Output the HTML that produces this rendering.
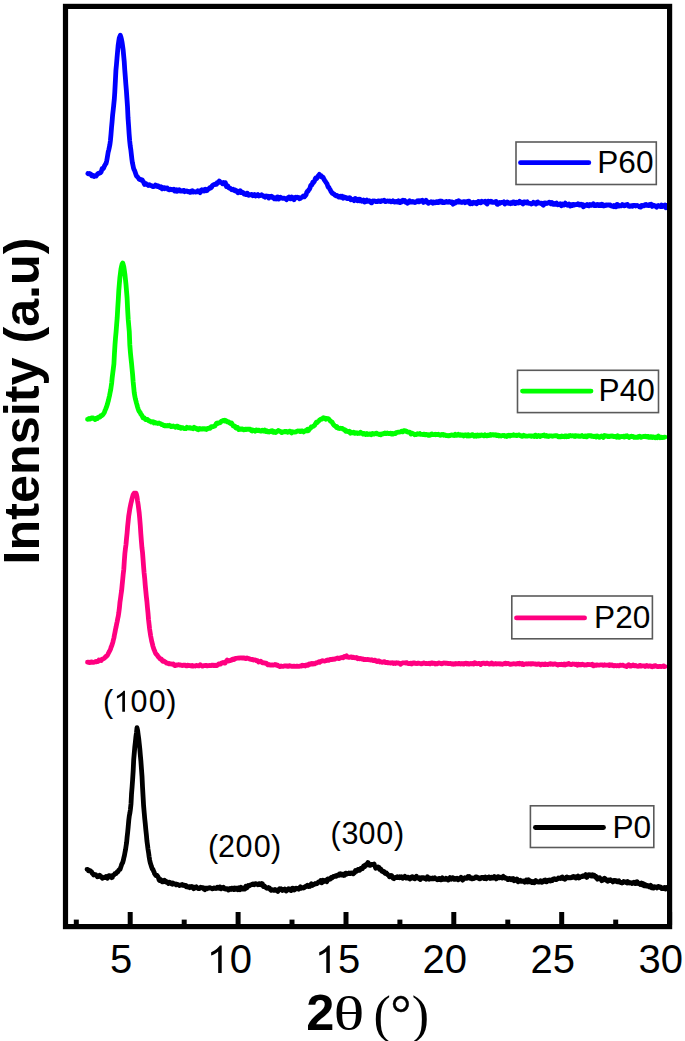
<!DOCTYPE html>
<html><head><meta charset="utf-8"><style>
html,body{margin:0;padding:0;background:#fff;}
body{width:685px;height:1041px;overflow:hidden;position:relative;}
svg{position:absolute;left:0;top:0;}
.tick{font-family:"Liberation Sans",sans-serif;font-size:40px;fill:#000;}
.leg{font-family:"Liberation Sans",sans-serif;font-size:31.6px;fill:#000;}
.ann{font-family:"Liberation Sans",sans-serif;font-size:30.5px;fill:#000;}
.ylab{font-family:"Liberation Sans",sans-serif;font-size:50.3px;font-weight:bold;fill:#000;}
.xb{font-family:"Liberation Sans",sans-serif;font-size:50.5px;font-weight:bold;fill:#000;}
.xs{font-family:"Liberation Serif",serif;font-size:50px;fill:#000;}
</style></head><body>
<svg width="685" height="1041" viewBox="0 0 685 1041">
<g fill="none" stroke-linejoin="round" stroke-linecap="round" stroke-width="4.8">
<path d="M87.9,173.5 88.5,173.8 89.0,173.6 89.5,173.5 90.1,173.7 90.6,174.0 91.2,175.0 91.7,175.8 92.3,175.2 92.8,175.3 93.4,176.2 93.9,176.5 94.5,176.2 95.0,175.7 95.6,176.1 96.1,176.2 96.7,175.1 97.2,174.6 97.8,173.7 98.3,173.4 98.9,173.1 99.4,173.3 100.0,172.6 100.5,172.6 101.1,171.9 101.6,170.4 102.2,168.5 102.7,168.5 103.3,168.5 103.8,167.6 104.4,166.0 104.9,165.3 105.5,164.1 106.0,163.5 106.6,161.3 107.1,158.7 107.7,155.2 108.2,152.0 108.8,149.8 109.3,147.4 109.9,144.5 110.4,140.7 111.0,134.3 111.5,127.9 112.1,121.6 112.6,115.3 113.2,109.9 113.7,105.3 114.3,99.3 114.8,91.8 115.4,80.5 115.9,70.5 116.5,64.1 117.0,58.1 117.6,51.4 118.1,45.9 118.7,41.5 119.2,38.3 119.8,36.6 120.3,35.3 120.9,37.0 121.4,39.1 122.0,41.9 122.5,45.4 123.1,49.6 123.6,54.9 124.2,61.2 124.7,69.1 125.3,76.7 125.8,83.6 126.4,90.7 126.9,98.0 127.5,106.7 128.0,117.5 128.6,125.8 129.1,133.7 129.7,141.0 130.2,145.7 130.8,149.6 131.3,154.1 131.9,159.2 132.4,162.8 133.0,165.6 133.5,167.9 134.1,169.7 134.6,170.5 135.2,172.3 135.7,173.8 136.3,175.6 136.8,176.3 137.4,176.7 137.9,177.5 138.5,178.0 139.0,179.1 139.6,179.4 140.1,179.7 140.7,179.5 141.2,180.2 141.8,179.7 142.3,179.9 142.9,181.2 143.4,181.8 144.0,183.2 144.5,184.4 145.1,183.3 145.6,183.3 146.2,184.1 146.7,184.6 147.3,184.5 147.8,184.7 148.4,185.5 148.9,185.4 149.5,184.8 150.0,185.3 150.6,185.5 151.1,185.3 151.7,185.8 152.2,185.8 152.8,186.7 153.3,186.6 153.9,186.4 154.4,186.1 155.0,185.9 155.5,185.1 156.1,185.6 156.6,186.2 157.2,185.7 157.7,186.5 158.3,186.1 158.8,186.9 159.4,186.8 159.9,187.5 160.5,187.2 161.0,186.7 161.6,188.2 162.1,188.7 162.7,187.9 163.2,187.6 163.8,187.6 164.3,187.7 164.9,188.6 165.4,188.2 166.0,188.1 166.5,188.0 167.1,187.9 167.6,188.2 168.2,189.5 168.7,189.6 169.3,189.9 169.8,189.6 170.4,189.2 170.9,189.3 171.5,189.5 172.0,189.8 172.6,189.8 173.1,189.6 173.7,189.2 174.2,189.9 174.8,191.1 175.3,190.2 175.9,189.8 176.4,190.8 177.0,191.2 177.5,190.0 178.1,190.2 178.6,190.0 179.2,189.8 179.7,191.0 180.3,191.1 180.8,190.9 181.4,190.7 181.9,191.1 182.5,190.8 183.0,190.7 183.6,190.3 184.1,190.5 184.7,191.7 185.2,191.3 185.8,191.4 186.3,191.3 186.9,191.0 187.4,191.2 188.0,191.7 188.5,191.4 189.1,191.3 189.6,191.7 190.2,192.4 190.7,192.2 191.3,191.7 191.8,190.9 192.4,190.7 192.9,191.9 193.5,192.1 194.0,191.6 194.6,191.8 195.1,192.0 195.7,192.1 196.2,191.9 196.8,191.4 197.3,191.7 197.9,190.8 198.4,191.5 199.0,191.7 199.5,192.0 200.1,192.6 200.6,192.0 201.2,190.2 201.7,189.8 202.3,190.9 202.8,190.4 203.4,190.8 203.9,191.0 204.5,189.6 205.0,189.3 205.6,190.5 206.1,190.8 206.7,190.6 207.2,190.4 207.8,189.5 208.3,188.9 208.9,189.0 209.4,188.2 210.0,187.5 210.5,188.1 211.1,187.7 211.6,187.1 212.2,185.9 212.7,185.3 213.3,184.8 213.8,184.7 214.4,184.7 214.9,184.1 215.5,184.2 216.0,184.3 216.6,184.3 217.1,182.6 217.7,182.8 218.2,182.4 218.8,181.8 219.3,181.0 219.9,181.6 220.4,182.4 221.0,182.4 221.5,182.5 222.1,182.9 222.6,183.8 223.2,183.3 223.7,182.5 224.3,183.1 224.8,182.8 225.4,182.7 225.9,184.9 226.5,186.6 227.0,186.3 227.6,185.7 228.1,186.4 228.7,187.8 229.2,188.0 229.8,188.0 230.3,188.3 230.9,188.8 231.4,189.6 232.0,189.8 232.5,189.6 233.1,189.3 233.6,190.0 234.2,190.1 234.7,190.7 235.3,190.1 235.8,190.5 236.4,190.7 236.9,190.8 237.5,192.5 238.0,192.7 238.6,191.9 239.1,192.3 239.7,191.9 240.2,190.8 240.8,192.0 241.3,192.6 241.9,192.5 242.4,192.2 243.0,192.6 243.5,193.2 244.1,194.0 244.6,193.9 245.2,193.9 245.7,194.5 246.3,193.7 246.8,193.2 247.4,193.2 247.9,194.9 248.5,195.3 249.0,195.2 249.6,195.0 250.1,194.7 250.7,194.6 251.2,194.5 251.8,194.5 252.3,195.0 252.9,195.8 253.4,195.5 254.0,194.9 254.5,194.5 255.1,194.9 255.6,196.0 256.2,195.8 256.7,195.3 257.3,194.9 257.8,194.6 258.4,195.3 258.9,195.9 259.5,195.4 260.0,195.3 260.6,195.5 261.1,195.4 261.7,194.8 262.2,195.2 262.8,195.6 263.3,196.2 263.9,195.9 264.4,196.7 265.0,197.2 265.5,196.3 266.1,196.0 266.6,196.5 267.2,196.4 267.7,196.2 268.3,197.2 268.8,198.1 269.4,197.1 269.9,196.6 270.5,196.4 271.0,196.9 271.6,196.3 272.1,196.6 272.7,197.7 273.2,197.3 273.8,198.2 274.3,198.7 274.9,198.1 275.4,198.4 276.0,198.9 276.5,197.9 277.1,197.1 277.6,196.9 278.2,197.9 278.7,199.0 279.3,198.6 279.8,197.4 280.4,197.2 280.9,197.7 281.5,198.1 282.0,198.1 282.6,198.3 283.1,198.4 283.7,198.1 284.2,198.2 284.8,198.4 285.3,198.4 285.9,199.0 286.4,199.7 287.0,199.1 287.5,198.2 288.1,197.5 288.6,197.9 289.2,197.0 289.7,197.3 290.3,198.7 290.8,198.9 291.4,198.0 291.9,197.1 292.5,197.5 293.0,197.9 293.6,198.9 294.1,199.7 294.7,198.5 295.2,197.4 295.8,197.1 296.3,197.7 296.9,197.6 297.4,197.2 298.0,197.4 298.5,197.3 299.1,198.4 299.6,198.8 300.2,198.4 300.7,197.6 301.3,197.6 301.8,197.3 302.4,196.9 302.9,196.6 303.5,195.8 304.0,195.8 304.6,196.7 305.1,196.0 305.7,195.4 306.2,194.5 306.8,192.2 307.3,191.4 307.9,191.3 308.4,190.6 309.0,189.6 309.5,189.2 310.1,187.7 310.6,185.8 311.2,185.0 311.7,185.1 312.3,183.9 312.8,182.1 313.4,182.6 313.9,182.0 314.5,181.1 315.0,179.4 315.6,178.1 316.1,177.7 316.7,178.6 317.2,177.4 317.8,177.0 318.3,175.7 318.9,175.1 319.4,174.4 320.0,175.2 320.5,176.1 321.1,175.8 321.6,177.0 322.2,177.2 322.7,176.9 323.3,177.7 323.8,178.9 324.4,180.0 324.9,180.7 325.5,181.5 326.0,182.5 326.6,183.1 327.1,184.0 327.7,185.9 328.2,187.2 328.8,187.2 329.3,188.5 329.9,189.2 330.4,190.1 331.0,191.5 331.5,192.1 332.1,193.2 332.6,193.0 333.2,193.7 333.7,193.9 334.3,194.2 334.8,195.1 335.4,195.4 335.9,195.9 336.5,195.7 337.0,195.4 337.6,196.0 338.1,196.7 338.7,197.0 339.2,196.4 339.8,196.4 340.3,196.2 340.9,197.1 341.4,196.5 342.0,196.2 342.5,197.4 343.1,198.1 343.6,196.9 344.2,196.8 344.7,197.2 345.3,197.4 345.8,198.1 346.4,197.8 346.9,197.9 347.5,198.6 348.0,198.3 348.6,198.6 349.1,198.0 349.7,197.6 350.2,198.0 350.8,199.7 351.3,199.4 351.9,199.3 352.4,199.4 353.0,199.5 353.5,200.0 354.1,200.6 354.6,199.1 355.2,198.4 355.7,198.7 356.3,199.1 356.8,200.5 357.4,200.7 357.9,199.6 358.5,199.3 359.0,200.3 359.6,200.8 360.1,199.3 360.7,200.3 361.2,200.5 361.8,201.1 362.3,200.5 362.9,200.4 363.4,200.0 364.0,200.6 364.5,202.1 365.1,202.0 365.6,201.1 366.2,200.4 366.7,200.0 367.3,200.8 367.8,201.4 368.4,201.4 368.9,201.2 369.5,200.8 370.0,201.2 370.6,201.7 371.1,202.7 371.7,202.9 372.2,201.7 372.8,201.0 373.3,201.2 373.9,201.0 374.4,201.0 375.0,201.2 375.5,201.1 376.1,201.7 376.6,201.7 377.2,201.7 377.7,201.4 378.3,200.9 378.8,200.8 379.4,201.2 379.9,201.3 380.5,201.6 381.0,201.4 381.6,200.8 382.1,201.1 382.7,200.7 383.2,200.9 383.8,200.9 384.3,200.3 384.9,201.3 385.4,201.7 386.0,201.5 386.5,201.3 387.1,201.1 387.6,200.9 388.2,201.2 388.7,201.3 389.3,201.4 389.8,201.0 390.4,201.6 390.9,201.8 391.5,201.5 392.0,201.5 392.6,201.6 393.1,200.9 393.7,201.7 394.2,202.0 394.8,202.0 395.3,201.8 395.9,201.3 396.4,201.5 397.0,202.1 397.5,202.1 398.1,201.6 398.6,200.9 399.2,202.0 399.7,202.7 400.3,202.6 400.8,201.7 401.4,201.0 401.9,201.9 402.5,201.3 403.0,200.2 403.6,201.1 404.1,200.6 404.7,200.5 405.2,201.3 405.8,202.3 406.3,201.8 406.9,202.2 407.4,203.2 408.0,203.0 408.5,201.9 409.1,201.3 409.6,200.8 410.2,201.2 410.7,201.9 411.3,202.1 411.8,202.1 412.4,202.2 412.9,201.5 413.5,201.7 414.0,202.3 414.6,202.5 415.1,202.6 415.7,202.2 416.2,201.7 416.8,201.7 417.3,200.9 417.9,200.7 418.4,201.8 419.0,201.9 419.5,201.6 420.1,200.8 420.6,201.1 421.2,201.2 421.7,200.7 422.3,200.2 422.8,201.3 423.4,202.4 423.9,202.1 424.5,201.5 425.0,201.9 425.6,201.7 426.1,200.3 426.7,201.3 427.2,202.3 427.8,202.7 428.3,203.3 428.9,203.0 429.4,202.4 430.0,202.3 430.5,202.3 431.1,201.7 431.6,201.9 432.2,202.8 432.7,203.2 433.3,202.2 433.8,201.9 434.4,202.3 434.9,202.8 435.5,202.5 436.0,202.6 436.6,201.6 437.1,201.6 437.7,201.9 438.2,202.6 438.8,202.4 439.3,201.1 439.9,201.2 440.4,201.8 441.0,201.3 441.5,201.1 442.1,202.4 442.6,202.6 443.2,202.3 443.7,202.0 444.3,202.5 444.8,202.3 445.4,202.4 445.9,201.5 446.5,201.4 447.0,201.8 447.6,201.8 448.1,202.3 448.7,202.1 449.2,201.5 449.8,201.8 450.3,202.0 450.9,202.4 451.4,201.8 452.0,201.9 452.5,203.2 453.1,204.1 453.6,203.7 454.2,202.6 454.7,202.5 455.3,203.0 455.8,202.1 456.4,201.5 456.9,202.1 457.5,202.2 458.0,201.4 458.6,200.7 459.1,201.1 459.7,202.1 460.2,201.8 460.8,201.9 461.3,202.4 461.9,202.5 462.4,202.2 463.0,202.2 463.5,201.7 464.1,201.6 464.6,201.7 465.2,202.7 465.7,202.3 466.3,201.7 466.8,201.8 467.4,202.1 467.9,202.3 468.5,201.2 469.0,201.2 469.6,202.3 470.1,203.9 470.7,203.3 471.2,202.5 471.8,203.1 472.3,203.6 472.9,202.5 473.4,202.2 474.0,203.0 474.5,203.0 475.1,202.7 475.6,202.5 476.2,203.7 476.7,203.8 477.3,203.1 477.8,202.4 478.4,201.4 478.9,202.3 479.5,202.4 480.0,202.7 480.6,202.8 481.1,201.9 481.7,201.3 482.2,202.1 482.8,201.9 483.3,201.9 483.9,201.9 484.4,201.6 485.0,201.2 485.5,202.7 486.1,203.0 486.6,203.5 487.2,203.9 487.7,202.5 488.3,201.2 488.8,201.3 489.4,201.4 489.9,201.9 490.5,202.0 491.0,201.4 491.6,202.0 492.1,201.7 492.7,202.4 493.2,202.4 493.8,202.3 494.3,202.3 494.9,202.1 495.4,201.7 496.0,201.4 496.5,202.6 497.1,204.1 497.6,204.4 498.2,203.9 498.7,203.1 499.3,202.6 499.8,203.3 500.4,202.8 500.9,202.5 501.5,202.4 502.0,202.5 502.6,202.4 503.1,202.3 503.7,201.9 504.2,202.7 504.8,204.0 505.3,203.0 505.9,202.6 506.4,203.1 507.0,203.0 507.5,202.1 508.1,202.5 508.6,203.3 509.2,203.1 509.7,203.2 510.3,203.6 510.8,202.7 511.4,202.6 511.9,202.8 512.5,203.2 513.0,201.8 513.6,201.9 514.1,202.5 514.7,203.2 515.2,203.6 515.8,203.5 516.3,202.3 516.9,202.9 517.4,202.7 518.0,202.5 518.5,202.9 519.1,202.0 519.6,201.4 520.2,202.0 520.7,201.8 521.3,202.3 521.8,203.1 522.4,203.5 522.9,203.9 523.5,202.9 524.0,201.9 524.6,202.0 525.1,202.0 525.7,202.2 526.2,202.9 526.8,202.3 527.3,201.9 527.9,203.1 528.4,203.2 529.0,203.3 529.5,203.4 530.1,203.5 530.6,203.5 531.2,204.0 531.7,203.8 532.3,203.6 532.8,203.2 533.4,202.4 533.9,202.8 534.5,203.1 535.0,203.1 535.6,202.8 536.1,204.0 536.7,203.5 537.2,202.3 537.8,202.0 538.3,202.8 538.9,203.1 539.4,203.0 540.0,203.2 540.5,203.2 541.1,203.5 541.6,203.1 542.2,203.5 542.7,204.6 543.3,205.1 543.8,203.4 544.4,202.9 544.9,203.2 545.5,203.7 546.0,203.0 546.6,203.1 547.1,203.4 547.7,202.9 548.2,202.8 548.8,202.8 549.3,202.1 549.9,202.4 550.4,203.3 551.0,203.8 551.5,203.4 552.1,202.6 552.6,203.4 553.2,204.4 553.7,204.4 554.3,203.8 554.8,203.5 555.4,204.1 555.9,203.5 556.5,203.0 557.0,203.6 557.6,204.8 558.1,204.7 558.7,204.7 559.2,204.2 559.8,204.5 560.3,203.9 560.9,204.4 561.4,205.8 562.0,205.1 562.5,204.0 563.1,204.1 563.6,204.7 564.2,205.0 564.7,203.9 565.3,203.1 565.8,203.8 566.4,204.3 566.9,204.7 567.5,205.3 568.0,205.0 568.6,204.7 569.1,204.1 569.7,205.2 570.2,206.1 570.8,205.4 571.3,204.8 571.9,205.0 572.4,205.4 573.0,204.3 573.5,204.4 574.1,205.0 574.6,205.0 575.2,204.5 575.7,204.6 576.3,204.5 576.8,204.6 577.4,204.4 577.9,203.9 578.5,204.6 579.0,205.0 579.6,204.2 580.1,204.5 580.7,204.9 581.2,204.2 581.8,204.4 582.3,204.4 582.9,205.7 583.4,206.8 584.0,206.4 584.5,205.2 585.1,205.2 585.6,205.1 586.2,205.2 586.7,205.5 587.3,204.6 587.8,205.2 588.4,205.3 588.9,205.8 589.5,205.2 590.0,204.6 590.6,205.1 591.1,205.4 591.7,205.2 592.2,205.1 592.8,204.3 593.3,203.8 593.9,205.2 594.4,205.6 595.0,205.2 595.5,205.3 596.1,205.6 596.6,204.8 597.2,204.5 597.7,205.0 598.3,205.5 598.8,204.7 599.4,205.4 599.9,204.7 600.5,204.6 601.0,205.6 601.6,205.1 602.1,204.3 602.7,204.9 603.2,205.9 603.8,206.0 604.3,205.2 604.9,205.5 605.4,205.6 606.0,205.0 606.5,205.3 607.1,205.2 607.6,204.8 608.2,204.9 608.7,205.2 609.3,205.2 609.8,204.9 610.4,205.1 610.9,205.9 611.5,205.8 612.0,206.1 612.6,206.3 613.1,206.4 613.7,206.7 614.2,205.5 614.8,205.6 615.3,205.7 615.9,206.8 616.4,206.4 617.0,204.4 617.5,204.6 618.1,205.8 618.6,206.2 619.2,206.0 619.7,205.6 620.3,205.8 620.8,205.9 621.4,205.8 621.9,205.6 622.5,204.5 623.0,205.2 623.6,205.2 624.1,205.8 624.7,205.4 625.2,205.0 625.8,205.4 626.3,204.9 626.9,204.5 627.4,204.4 628.0,205.3 628.5,206.1 629.1,206.3 629.6,205.9 630.2,206.2 630.7,205.8 631.3,205.7 631.8,206.2 632.4,206.3 632.9,205.6 633.5,205.4 634.0,205.5 634.6,205.5 635.1,205.4 635.7,206.0 636.2,205.7 636.8,205.7 637.3,205.4 637.9,205.8 638.4,205.9 639.0,206.0 639.5,206.9 640.1,206.7 640.6,207.1 641.2,206.6 641.7,205.5 642.3,205.5 642.8,206.0 643.4,205.9 643.9,205.8 644.5,205.3 645.0,204.6 645.6,204.9 646.1,204.5 646.7,205.4 647.2,205.3 647.8,205.2 648.3,205.6 648.9,205.7 649.4,204.7 650.0,204.3 650.5,204.5 651.1,204.2 651.6,205.2 652.2,206.4 652.7,205.7 653.3,205.8 653.8,205.3 654.4,205.7 654.9,205.8 655.5,205.9 656.0,206.6 656.6,207.1 657.1,206.4 657.7,205.8 658.2,205.5 658.8,206.0 659.3,206.1 659.9,206.4 660.4,206.4 661.0,206.6 661.5,205.0 662.1,205.6 662.6,206.4 663.2,205.8 663.7,205.4 664.3,205.4 664.8,205.1 665.4,206.3 665.9,207.7 666.5,207.0 667.0,205.4 667.6,205.2" stroke="#0000ff"/>
<path d="M87.5,419.3 88.0,419.3 88.6,418.7 89.1,418.5 89.7,419.0 90.2,419.0 90.8,418.4 91.3,418.0 91.9,417.8 92.4,418.0 93.0,417.9 93.5,418.7 94.1,418.7 94.6,419.1 95.2,419.6 95.7,419.1 96.3,418.2 96.8,418.5 97.4,418.5 97.9,417.6 98.5,417.2 99.0,417.1 99.6,416.8 100.1,417.0 100.7,415.8 101.2,415.6 101.8,415.6 102.3,415.2 102.9,414.6 103.4,413.9 104.0,413.0 104.5,412.1 105.1,410.2 105.6,409.2 106.2,407.8 106.7,406.4 107.3,404.6 107.8,402.6 108.4,400.5 108.9,398.2 109.5,395.7 110.0,393.1 110.6,390.3 111.1,387.0 111.7,382.8 112.2,377.6 112.8,372.8 113.3,368.9 113.9,364.0 114.4,354.4 115.0,344.7 115.5,338.1 116.1,331.8 116.6,325.1 117.2,317.8 117.7,308.9 118.3,299.5 118.8,290.5 119.4,283.3 119.9,277.5 120.5,272.8 121.0,268.9 121.6,266.0 122.1,264.0 122.7,263.1 123.2,264.6 123.8,266.9 124.3,270.2 124.9,274.3 125.4,279.1 126.0,284.6 126.5,290.7 127.1,298.0 127.6,308.8 128.2,319.2 128.7,325.1 129.3,331.8 129.8,344.7 130.4,352.4 130.9,357.6 131.5,363.0 132.0,368.4 132.6,374.5 133.1,381.3 133.7,387.2 134.2,392.5 134.8,396.0 135.3,398.6 135.9,400.8 136.4,402.9 137.0,404.9 137.5,406.9 138.1,408.8 138.6,410.2 139.2,411.4 139.7,412.0 140.3,412.8 140.8,414.0 141.4,414.6 141.9,415.5 142.5,416.6 143.0,417.7 143.6,417.4 144.1,417.8 144.7,418.4 145.2,419.1 145.8,419.6 146.3,419.4 146.9,419.3 147.4,419.4 148.0,420.0 148.5,420.8 149.1,421.0 149.6,420.8 150.2,421.2 150.7,421.7 151.3,422.0 151.8,421.9 152.4,421.9 152.9,421.6 153.5,422.2 154.0,423.0 154.6,422.2 155.1,422.7 155.7,423.1 156.2,423.0 156.8,423.0 157.3,423.3 157.9,423.5 158.4,423.4 159.0,423.0 159.5,423.4 160.1,423.5 160.6,423.7 161.2,424.2 161.7,424.6 162.3,424.8 162.8,424.6 163.4,425.2 163.9,425.6 164.5,425.8 165.0,425.9 165.6,425.5 166.1,425.6 166.7,425.8 167.2,425.5 167.8,425.8 168.3,425.8 168.9,425.7 169.4,425.3 170.0,425.6 170.5,426.2 171.1,426.7 171.6,426.7 172.2,426.3 172.7,426.1 173.3,426.0 173.8,426.4 174.4,426.4 174.9,426.9 175.5,427.3 176.0,426.6 176.6,426.1 177.1,426.2 177.7,426.2 178.2,426.7 178.8,427.7 179.3,427.6 179.9,427.2 180.4,428.0 181.0,428.3 181.5,427.8 182.1,427.6 182.6,427.7 183.2,428.0 183.7,428.3 184.3,428.6 184.8,428.6 185.4,428.6 185.9,428.6 186.5,428.1 187.0,427.3 187.6,427.6 188.1,427.9 188.7,427.8 189.2,428.1 189.8,427.7 190.3,427.6 190.9,428.3 191.4,428.3 192.0,428.2 192.5,428.5 193.1,428.7 193.6,428.1 194.2,427.3 194.7,427.8 195.3,428.1 195.8,428.2 196.4,428.8 196.9,429.2 197.5,428.7 198.0,428.7 198.6,429.6 199.1,429.0 199.7,428.6 200.2,429.1 200.8,429.2 201.3,429.0 201.9,429.2 202.4,428.8 203.0,428.6 203.5,429.0 204.1,429.1 204.6,428.7 205.2,428.7 205.7,429.0 206.3,429.5 206.8,428.7 207.4,428.8 207.9,428.4 208.5,428.2 209.0,428.3 209.6,428.4 210.1,428.2 210.7,427.5 211.2,426.8 211.8,426.6 212.3,426.8 212.9,426.7 213.4,426.6 214.0,426.2 214.5,426.1 215.1,425.8 215.6,424.8 216.2,423.7 216.7,423.2 217.3,423.1 217.8,423.5 218.4,422.9 218.9,422.9 219.5,422.8 220.0,422.8 220.6,422.2 221.1,421.4 221.7,421.0 222.2,420.9 222.8,420.7 223.3,420.4 223.9,420.6 224.4,420.9 225.0,420.2 225.5,420.5 226.1,420.7 226.6,421.2 227.2,421.8 227.7,421.9 228.3,422.0 228.8,421.9 229.4,422.8 229.9,423.0 230.5,423.6 231.0,423.6 231.6,423.1 232.1,423.9 232.7,425.1 233.2,425.9 233.8,426.0 234.3,426.0 234.9,426.1 235.4,427.4 236.0,428.0 236.5,427.7 237.1,427.5 237.6,427.5 238.2,428.7 238.7,429.6 239.3,429.3 239.8,429.3 240.4,429.0 240.9,428.8 241.5,429.2 242.0,428.8 242.6,429.0 243.1,429.5 243.7,429.8 244.2,429.8 244.8,429.6 245.3,429.2 245.9,429.1 246.4,429.5 247.0,429.3 247.5,429.1 248.1,429.2 248.6,429.4 249.2,429.1 249.7,429.1 250.3,429.3 250.8,430.1 251.4,430.6 251.9,430.9 252.5,429.9 253.0,430.0 253.6,430.6 254.1,430.4 254.7,430.5 255.2,431.1 255.8,430.5 256.3,429.9 256.9,430.0 257.4,430.7 258.0,430.7 258.5,430.1 259.1,430.3 259.6,430.9 260.2,431.0 260.7,430.8 261.3,431.1 261.8,431.0 262.4,430.3 262.9,430.7 263.5,431.0 264.0,430.6 264.6,430.1 265.1,430.8 265.7,431.5 266.2,431.5 266.8,430.8 267.3,431.7 267.9,431.2 268.4,431.6 269.0,432.0 269.5,431.8 270.1,431.3 270.6,431.0 271.2,431.3 271.7,430.8 272.3,430.7 272.8,432.2 273.4,432.3 273.9,432.1 274.5,431.5 275.0,432.1 275.6,432.5 276.1,432.3 276.7,431.6 277.2,431.1 277.8,431.1 278.3,430.5 278.9,430.7 279.4,431.3 280.0,431.3 280.5,431.5 281.1,431.9 281.6,432.6 282.2,432.4 282.7,432.0 283.3,432.1 283.8,431.6 284.4,431.6 284.9,431.9 285.5,431.4 286.0,431.3 286.6,431.3 287.1,431.9 287.7,432.3 288.2,431.7 288.8,431.7 289.3,431.3 289.9,431.1 290.4,431.4 291.0,432.5 291.5,432.9 292.1,432.2 292.6,431.7 293.2,431.9 293.7,431.8 294.3,432.1 294.8,432.0 295.4,432.0 295.9,431.9 296.5,431.5 297.0,431.3 297.6,430.9 298.1,431.1 298.7,431.0 299.2,431.3 299.8,431.2 300.3,431.6 300.9,431.6 301.4,430.9 302.0,430.8 302.5,431.0 303.1,431.6 303.6,432.0 304.2,431.5 304.7,431.1 305.3,431.1 305.8,430.4 306.4,430.8 306.9,429.9 307.5,429.3 308.0,430.8 308.6,430.4 309.1,429.1 309.7,428.8 310.2,428.4 310.8,427.9 311.3,426.9 311.9,426.7 312.4,426.7 313.0,426.4 313.5,426.1 314.1,425.6 314.6,425.5 315.2,424.3 315.7,423.5 316.3,422.3 316.8,422.1 317.4,422.4 317.9,421.5 318.5,421.3 319.0,420.7 319.6,419.9 320.1,419.7 320.7,419.3 321.2,419.1 321.8,419.2 322.3,418.9 322.9,418.1 323.4,417.7 324.0,417.9 324.5,417.9 325.1,418.5 325.6,419.2 326.2,418.7 326.7,418.4 327.3,418.5 327.8,418.6 328.4,418.8 328.9,419.3 329.5,420.0 330.0,420.6 330.6,421.4 331.1,421.5 331.7,421.8 332.2,422.2 332.8,423.6 333.3,424.2 333.9,425.0 334.4,425.5 335.0,425.9 335.5,426.0 336.1,426.8 336.6,427.5 337.2,426.9 337.7,427.7 338.3,428.3 338.8,428.1 339.4,428.4 339.9,428.6 340.5,428.2 341.0,428.4 341.6,428.3 342.1,428.4 342.7,428.7 343.2,429.2 343.8,429.6 344.3,429.7 344.9,429.7 345.4,431.0 346.0,431.3 346.5,431.2 347.1,431.0 347.6,431.3 348.2,431.7 348.7,431.7 349.3,431.3 349.8,432.4 350.4,433.1 350.9,432.0 351.5,432.4 352.0,432.6 352.6,432.6 353.1,432.9 353.7,432.3 354.2,432.8 354.8,433.3 355.3,432.9 355.9,432.7 356.4,432.9 357.0,433.1 357.5,433.5 358.1,433.1 358.6,433.3 359.2,433.0 359.7,433.4 360.3,433.1 360.8,432.4 361.4,433.0 361.9,433.1 362.5,433.5 363.0,434.0 363.6,433.3 364.1,433.3 364.7,434.2 365.2,434.2 365.8,434.5 366.3,434.0 366.9,433.5 367.4,433.9 368.0,434.5 368.5,434.4 369.1,434.0 369.6,433.9 370.2,433.8 370.7,433.9 371.3,434.6 371.8,434.0 372.4,433.4 372.9,433.7 373.5,434.2 374.0,434.2 374.6,433.8 375.1,433.6 375.7,433.6 376.2,433.1 376.8,433.3 377.3,433.9 377.9,433.8 378.4,434.1 379.0,434.5 379.5,434.3 380.1,434.2 380.6,434.8 381.2,434.3 381.7,433.9 382.3,434.1 382.8,433.9 383.4,433.5 383.9,433.7 384.5,433.5 385.0,433.0 385.6,433.4 386.1,433.6 386.7,433.3 387.2,433.0 387.8,433.4 388.3,433.6 388.9,433.6 389.4,433.3 390.0,433.6 390.5,433.2 391.1,433.5 391.6,434.0 392.2,433.4 392.7,433.4 393.3,433.9 393.8,433.5 394.4,433.4 394.9,433.7 395.5,433.6 396.0,432.6 396.6,432.5 397.1,432.5 397.7,432.3 398.2,432.2 398.8,432.1 399.3,432.2 399.9,431.8 400.4,431.8 401.0,431.7 401.5,431.2 402.1,431.4 402.6,431.8 403.2,431.3 403.7,430.7 404.3,430.7 404.8,430.6 405.4,431.1 405.9,431.4 406.5,431.1 407.0,431.5 407.6,432.1 408.1,432.0 408.7,432.2 409.2,432.1 409.8,432.3 410.3,433.0 410.9,433.9 411.4,433.4 412.0,433.2 412.5,433.3 413.1,433.6 413.6,434.0 414.2,434.2 414.7,434.7 415.3,434.4 415.8,434.6 416.4,434.4 416.9,434.2 417.5,433.7 418.0,434.0 418.6,434.2 419.1,433.9 419.7,433.6 420.2,434.4 420.8,434.4 421.3,434.3 421.9,434.4 422.4,434.5 423.0,434.6 423.5,434.1 424.1,434.2 424.6,434.7 425.2,434.8 425.7,434.6 426.3,434.4 426.8,434.4 427.4,434.9 427.9,435.2 428.5,434.8 429.0,435.4 429.6,435.3 430.1,434.9 430.7,435.0 431.2,434.2 431.8,433.9 432.3,434.2 432.9,434.6 433.4,434.7 434.0,434.7 434.5,434.7 435.1,434.3 435.6,434.7 436.2,434.4 436.7,434.5 437.3,434.6 437.8,434.4 438.4,434.2 438.9,434.5 439.5,435.0 440.0,435.3 440.6,435.2 441.1,434.7 441.7,434.5 442.2,434.7 442.8,434.9 443.3,434.5 443.9,435.3 444.4,435.0 445.0,434.8 445.5,435.3 446.1,435.6 446.6,435.5 447.2,435.6 447.7,435.5 448.3,435.8 448.8,435.8 449.4,435.5 449.9,435.7 450.5,435.4 451.0,435.1 451.6,434.8 452.1,435.1 452.7,435.3 453.2,434.9 453.8,435.3 454.3,435.5 454.9,435.1 455.4,434.4 456.0,435.0 456.5,435.4 457.1,435.0 457.6,434.9 458.2,434.4 458.7,435.1 459.3,435.2 459.8,435.3 460.4,434.8 460.9,435.3 461.5,435.4 462.0,435.4 462.6,434.9 463.1,435.2 463.7,435.9 464.2,435.2 464.8,434.9 465.3,435.0 465.9,435.0 466.4,435.8 467.0,436.0 467.5,435.0 468.1,434.7 468.6,435.7 469.2,436.0 469.7,435.9 470.3,435.8 470.8,435.1 471.4,435.0 471.9,434.6 472.5,434.7 473.0,435.4 473.6,435.5 474.1,436.1 474.7,435.6 475.2,435.2 475.8,435.8 476.3,436.2 476.9,435.6 477.4,435.0 478.0,435.5 478.5,435.9 479.1,435.3 479.6,435.1 480.2,435.7 480.7,435.4 481.3,434.9 481.8,435.0 482.4,435.1 482.9,435.4 483.5,435.6 484.0,435.9 484.6,435.6 485.1,434.9 485.7,435.5 486.2,435.8 486.8,435.8 487.3,435.8 487.9,435.2 488.4,435.1 489.0,435.5 489.5,434.9 490.1,434.6 490.6,435.4 491.2,435.2 491.7,435.0 492.3,434.7 492.8,434.6 493.4,434.8 493.9,435.2 494.5,435.2 495.0,434.7 495.6,435.3 496.1,435.0 496.7,435.0 497.2,435.6 497.8,435.3 498.3,435.1 498.9,435.9 499.4,435.4 500.0,435.5 500.5,435.8 501.1,436.0 501.6,435.6 502.2,435.7 502.7,435.5 503.3,435.7 503.8,435.3 504.4,435.5 504.9,436.2 505.5,435.9 506.0,435.9 506.6,436.4 507.1,435.8 507.7,435.3 508.2,435.5 508.8,435.3 509.3,435.9 509.9,436.0 510.4,435.4 511.0,435.2 511.5,435.5 512.1,435.4 512.6,435.2 513.2,435.4 513.7,434.8 514.3,435.1 514.8,435.3 515.4,435.4 515.9,435.5 516.5,435.2 517.0,435.6 517.6,435.5 518.1,435.1 518.7,434.8 519.2,435.0 519.8,435.5 520.3,435.3 520.9,435.6 521.4,436.2 522.0,436.3 522.5,436.3 523.1,435.6 523.6,435.3 524.2,435.9 524.7,436.0 525.3,436.1 525.8,435.9 526.4,436.2 526.9,436.2 527.5,436.1 528.0,436.0 528.6,435.9 529.1,435.8 529.7,435.9 530.2,436.0 530.8,435.8 531.3,436.3 531.9,436.0 532.4,436.1 533.0,435.8 533.5,435.9 534.1,436.4 534.6,435.7 535.2,435.1 535.7,435.3 536.3,435.8 536.8,436.6 537.4,436.2 537.9,436.0 538.5,435.5 539.0,435.9 539.6,436.3 540.1,436.5 540.7,435.8 541.2,436.0 541.8,435.9 542.3,435.5 542.9,435.6 543.4,435.4 544.0,435.0 544.5,435.8 545.1,436.1 545.6,435.6 546.2,435.5 546.7,436.3 547.3,436.3 547.8,436.4 548.4,436.5 548.9,435.9 549.5,436.1 550.0,435.9 550.6,435.8 551.1,435.8 551.7,436.0 552.2,436.3 552.8,436.1 553.3,435.8 553.9,435.8 554.4,435.9 555.0,435.6 555.5,435.6 556.1,435.8 556.6,435.7 557.2,435.7 557.7,436.0 558.3,436.8 558.8,436.8 559.4,436.3 559.9,436.3 560.5,436.8 561.0,436.4 561.6,436.0 562.1,436.1 562.7,436.3 563.2,436.6 563.8,436.4 564.3,436.7 564.9,436.0 565.4,436.0 566.0,436.0 566.5,436.6 567.1,436.1 567.6,436.1 568.2,436.5 568.7,436.5 569.3,435.8 569.8,435.6 570.4,435.5 570.9,435.9 571.5,436.0 572.0,435.9 572.6,435.7 573.1,435.8 573.7,435.8 574.2,436.4 574.8,436.5 575.3,435.6 575.9,435.8 576.4,436.0 577.0,436.1 577.5,435.8 578.1,435.8 578.6,435.8 579.2,436.3 579.7,436.3 580.3,436.2 580.8,436.3 581.4,435.9 581.9,435.6 582.5,436.3 583.0,436.4 583.6,436.3 584.1,436.7 584.7,436.7 585.2,435.9 585.8,436.0 586.3,436.9 586.9,436.9 587.4,436.0 588.0,435.6 588.5,435.8 589.1,435.8 589.6,435.6 590.2,435.9 590.7,435.6 591.3,435.8 591.8,436.4 592.4,436.1 592.9,436.3 593.5,436.6 594.0,436.7 594.6,436.3 595.1,436.2 595.7,436.2 596.2,437.0 596.8,436.7 597.3,436.0 597.9,436.3 598.4,436.7 599.0,436.9 599.5,437.3 600.1,437.1 600.6,436.3 601.2,436.1 601.7,435.9 602.3,436.3 602.8,436.8 603.4,437.5 603.9,436.5 604.5,435.6 605.0,435.9 605.6,436.2 606.1,435.9 606.7,435.9 607.2,436.2 607.8,436.5 608.3,436.3 608.9,436.2 609.4,436.6 610.0,436.3 610.5,436.1 611.1,435.8 611.6,436.1 612.2,436.4 612.7,436.0 613.3,436.4 613.8,436.7 614.4,436.5 614.9,436.4 615.5,436.3 616.0,437.0 616.6,437.2 617.1,436.6 617.7,435.8 618.2,436.1 618.8,437.0 619.3,437.4 619.9,437.1 620.4,437.0 621.0,436.5 621.5,436.5 622.1,436.6 622.6,436.6 623.2,436.2 623.7,437.0 624.3,437.1 624.8,436.2 625.4,436.0 625.9,436.5 626.5,436.2 627.0,435.8 627.6,436.7 628.1,436.8 628.7,436.8 629.2,437.4 629.8,436.9 630.3,436.4 630.9,436.5 631.4,436.2 632.0,436.3 632.5,436.7 633.1,436.5 633.6,436.7 634.2,437.4 634.7,437.4 635.3,437.2 635.8,437.1 636.4,437.2 636.9,437.4 637.5,437.2 638.0,437.4 638.6,436.6 639.1,436.4 639.7,436.2 640.2,436.6 640.8,437.2 641.3,437.4 641.9,436.8 642.4,436.7 643.0,436.6 643.5,436.4 644.1,436.3 644.6,436.5 645.2,436.2 645.7,436.7 646.3,436.8 646.8,436.5 647.4,436.3 647.9,436.5 648.5,437.3 649.0,436.8 649.6,437.4 650.1,437.3 650.7,436.7 651.2,436.6 651.8,437.4 652.3,437.6 652.9,436.8 653.4,436.9 654.0,437.4 654.5,437.5 655.1,437.7 655.6,437.1 656.2,437.0 656.7,436.9 657.3,437.6 657.8,436.7 658.4,436.1 658.9,436.7 659.5,437.2 660.0,437.7 660.6,437.2 661.1,437.1 661.7,437.5 662.2,437.7 662.8,437.4 663.3,437.5 663.9,437.4 664.4,437.1 665.0,437.1" stroke="#00ff00"/>
<path d="M87.5,662.2 88.0,662.2 88.6,662.4 89.1,662.1 89.7,662.6 90.2,662.6 90.8,662.2 91.3,661.9 91.9,662.1 92.4,662.3 93.0,662.4 93.5,662.3 94.1,662.3 94.6,662.0 95.2,661.8 95.7,661.5 96.3,661.8 96.8,661.6 97.4,661.4 97.9,661.6 98.5,661.0 99.0,660.0 99.6,660.1 100.1,660.0 100.7,660.5 101.2,660.6 101.8,659.6 102.3,659.2 102.9,658.9 103.4,658.7 104.0,658.5 104.5,658.1 105.1,657.3 105.6,657.1 106.2,656.2 106.7,655.8 107.3,655.5 107.8,654.5 108.4,653.2 108.9,652.3 109.5,651.2 110.0,650.2 110.6,649.0 111.1,647.1 111.7,645.9 112.2,644.2 112.8,642.4 113.3,640.3 113.9,638.0 114.4,635.2 115.0,632.2 115.5,629.5 116.1,626.9 116.6,624.2 117.2,621.5 117.7,618.8 118.3,616.0 118.8,612.7 119.4,607.9 119.9,602.7 120.5,598.5 121.0,594.8 121.6,590.7 122.1,585.4 122.7,579.4 123.2,574.3 123.8,569.2 124.3,561.1 124.9,553.3 125.4,548.9 126.0,544.5 126.5,538.8 127.1,532.9 127.6,526.7 128.2,520.9 128.7,516.1 129.3,512.3 129.8,509.0 130.4,506.1 130.9,503.5 131.5,501.1 132.0,498.9 132.6,496.7 133.1,494.8 133.7,493.9 134.2,493.2 134.8,493.1 135.3,493.2 135.9,493.1 136.4,494.2 137.0,496.7 137.5,500.6 138.1,504.3 138.6,508.3 139.2,512.9 139.7,518.4 140.3,525.6 140.8,533.3 141.4,541.2 141.9,547.4 142.5,552.3 143.0,558.8 143.6,566.9 144.1,572.8 144.7,578.4 145.2,584.8 145.8,590.9 146.3,596.2 146.9,601.4 147.4,607.1 148.0,613.0 148.5,619.3 149.1,624.6 149.6,629.0 150.2,632.8 150.7,636.1 151.3,639.1 151.8,641.7 152.4,643.9 152.9,646.1 153.5,648.0 154.0,649.5 154.6,650.8 155.1,652.1 155.7,653.5 156.2,654.1 156.8,654.8 157.3,655.3 157.9,656.3 158.4,657.1 159.0,657.4 159.5,658.1 160.1,659.0 160.6,658.8 161.2,659.0 161.7,659.7 162.3,660.7 162.8,661.3 163.4,661.1 163.9,661.0 164.5,661.4 165.0,662.0 165.6,662.1 166.1,662.8 166.7,663.2 167.2,663.0 167.8,663.3 168.3,663.7 168.9,663.8 169.4,663.5 170.0,663.9 170.5,663.8 171.1,663.8 171.6,664.1 172.2,664.1 172.7,664.0 173.3,663.9 173.8,664.4 174.4,665.3 174.9,665.6 175.5,665.4 176.0,665.3 176.6,665.0 177.1,665.0 177.7,665.0 178.2,664.7 178.8,664.7 179.3,665.0 179.9,665.0 180.4,664.9 181.0,665.2 181.5,665.3 182.1,665.5 182.6,665.3 183.2,665.2 183.7,665.3 184.3,665.2 184.8,665.1 185.4,665.3 185.9,665.7 186.5,665.9 187.0,665.8 187.6,665.2 188.1,665.3 188.7,665.5 189.2,665.7 189.8,665.5 190.3,665.6 190.9,665.9 191.4,665.7 192.0,665.5 192.5,666.1 193.1,666.1 193.6,665.8 194.2,665.9 194.7,665.8 195.3,666.0 195.8,665.8 196.4,665.5 196.9,665.5 197.5,665.6 198.0,665.8 198.6,665.9 199.1,665.8 199.7,665.3 200.2,664.7 200.8,665.3 201.3,665.3 201.9,665.8 202.4,666.1 203.0,665.9 203.5,665.6 204.1,665.6 204.6,665.6 205.2,665.5 205.7,665.3 206.3,665.4 206.8,665.9 207.4,665.8 207.9,665.8 208.5,665.6 209.0,665.5 209.6,665.5 210.1,665.6 210.7,665.7 211.2,665.5 211.8,665.1 212.3,665.2 212.9,665.6 213.4,665.3 214.0,665.2 214.5,665.7 215.1,665.6 215.6,665.3 216.2,665.2 216.7,665.6 217.3,665.3 217.8,665.0 218.4,664.5 218.9,663.9 219.5,663.8 220.0,664.2 220.6,664.1 221.1,663.6 221.7,663.0 222.2,662.8 222.8,662.7 223.3,662.5 223.9,662.9 224.4,663.1 225.0,663.2 225.5,662.4 226.1,661.5 226.6,660.8 227.2,660.1 227.7,660.5 228.3,660.8 228.8,661.0 229.4,660.8 229.9,660.6 230.5,660.4 231.0,660.3 231.6,660.2 232.1,659.4 232.7,659.1 233.2,659.0 233.8,659.6 234.3,659.5 234.9,659.0 235.4,658.3 236.0,658.4 236.5,658.3 237.1,658.2 237.6,658.1 238.2,658.1 238.7,658.0 239.3,658.2 239.8,658.0 240.4,657.8 240.9,657.8 241.5,657.9 242.0,658.1 242.6,658.0 243.1,658.1 243.7,657.9 244.2,657.8 244.8,658.3 245.3,658.2 245.9,658.5 246.4,658.5 247.0,658.0 247.5,658.2 248.1,658.4 248.6,658.5 249.2,658.6 249.7,659.1 250.3,659.2 250.8,659.3 251.4,659.3 251.9,659.5 252.5,659.4 253.0,659.7 253.6,660.0 254.1,659.9 254.7,659.8 255.2,659.8 255.8,660.3 256.3,660.6 256.9,660.5 257.4,660.6 258.0,661.3 258.5,661.9 259.1,661.5 259.6,661.6 260.2,661.6 260.7,661.2 261.3,661.8 261.8,662.2 262.4,662.8 262.9,662.6 263.5,662.6 264.0,662.9 264.6,663.2 265.1,663.2 265.7,663.3 266.2,663.2 266.8,663.7 267.3,664.3 267.9,664.8 268.4,664.6 269.0,664.5 269.5,664.8 270.1,665.0 270.6,665.2 271.2,665.1 271.7,664.8 272.3,664.9 272.8,665.0 273.4,665.1 273.9,665.1 274.5,664.7 275.0,664.5 275.6,664.7 276.1,664.7 276.7,665.3 277.2,665.4 277.8,665.2 278.3,665.8 278.9,666.1 279.4,666.1 280.0,666.6 280.5,666.5 281.1,665.9 281.6,666.3 282.2,666.4 282.7,666.4 283.3,666.4 283.8,666.0 284.4,665.9 284.9,665.9 285.5,666.0 286.0,666.0 286.6,665.8 287.1,665.9 287.7,666.4 288.2,666.4 288.8,666.2 289.3,665.7 289.9,665.8 290.4,666.0 291.0,666.2 291.5,666.2 292.1,666.4 292.6,666.3 293.2,666.2 293.7,666.3 294.3,666.3 294.8,666.2 295.4,666.4 295.9,666.4 296.5,666.2 297.0,666.1 297.6,666.3 298.1,666.4 298.7,666.4 299.2,666.2 299.8,666.2 300.3,666.1 300.9,666.2 301.4,665.7 302.0,665.3 302.5,665.9 303.1,665.7 303.6,665.3 304.2,665.3 304.7,665.5 305.3,666.0 305.8,665.6 306.4,664.9 306.9,665.2 307.5,665.2 308.0,665.4 308.6,664.5 309.1,664.0 309.7,664.4 310.2,664.3 310.8,663.9 311.3,663.5 311.9,664.1 312.4,664.2 313.0,663.4 313.5,663.7 314.1,663.6 314.6,663.9 315.2,663.4 315.7,663.0 316.3,663.1 316.8,662.8 317.4,662.4 317.9,662.4 318.5,661.9 319.0,661.7 319.6,662.3 320.1,661.8 320.7,661.5 321.2,661.4 321.8,660.9 322.3,660.7 322.9,660.9 323.4,660.9 324.0,661.0 324.5,661.1 325.1,660.8 325.6,660.8 326.2,660.6 326.7,660.2 327.3,660.2 327.8,660.0 328.4,660.4 328.9,660.2 329.5,659.8 330.0,659.4 330.6,659.5 331.1,659.4 331.7,659.6 332.2,659.3 332.8,659.1 333.3,659.4 333.9,659.3 334.4,658.9 335.0,659.1 335.5,658.7 336.1,658.5 336.6,658.4 337.2,658.1 337.7,658.0 338.3,658.2 338.8,658.6 339.4,658.4 339.9,658.0 340.5,658.0 341.0,657.6 341.6,657.5 342.1,657.5 342.7,657.5 343.2,657.7 343.8,657.0 344.3,656.5 344.9,656.9 345.4,656.6 346.0,656.2 346.5,655.8 347.1,656.7 347.6,657.1 348.2,657.1 348.7,657.3 349.3,657.4 349.8,657.1 350.4,657.2 350.9,656.9 351.5,657.1 352.0,657.6 352.6,657.4 353.1,657.1 353.7,657.5 354.2,657.6 354.8,657.6 355.3,657.9 355.9,657.8 356.4,657.5 357.0,657.9 357.5,658.6 358.1,658.1 358.6,658.4 359.2,658.8 359.7,658.7 360.3,658.4 360.8,658.6 361.4,658.9 361.9,659.1 362.5,658.8 363.0,658.8 363.6,659.5 364.1,659.7 364.7,659.5 365.2,659.3 365.8,659.5 366.3,659.7 366.9,659.7 367.4,659.4 368.0,659.6 368.5,659.7 369.1,659.6 369.6,659.9 370.2,660.0 370.7,660.0 371.3,660.1 371.8,659.8 372.4,660.2 372.9,660.5 373.5,660.7 374.0,660.7 374.6,660.2 375.1,660.1 375.7,660.7 376.2,661.2 376.8,661.6 377.3,661.3 377.9,660.9 378.4,661.2 379.0,660.9 379.5,661.0 380.1,662.0 380.6,661.9 381.2,661.8 381.7,662.0 382.3,662.3 382.8,662.1 383.4,662.1 383.9,661.6 384.5,661.6 385.0,662.4 385.6,662.7 386.1,662.5 386.7,662.3 387.2,662.3 387.8,662.3 388.3,662.9 388.9,662.9 389.4,662.8 390.0,662.8 390.5,663.0 391.1,663.0 391.6,662.9 392.2,662.6 392.7,663.1 393.3,663.5 393.8,663.0 394.4,663.0 394.9,663.3 395.5,663.5 396.0,663.2 396.6,662.7 397.1,663.0 397.7,662.8 398.2,662.9 398.8,663.2 399.3,663.2 399.9,663.7 400.4,664.3 401.0,663.8 401.5,663.4 402.1,663.0 402.6,662.9 403.2,662.8 403.7,662.9 404.3,662.8 404.8,662.9 405.4,663.0 405.9,662.8 406.5,662.6 407.0,662.8 407.6,663.3 408.1,663.5 408.7,663.7 409.2,663.7 409.8,663.4 410.3,663.3 410.9,663.2 411.4,664.0 412.0,663.9 412.5,663.3 413.1,663.0 413.6,663.2 414.2,662.8 414.7,663.0 415.3,663.5 415.8,663.4 416.4,663.3 416.9,663.5 417.5,663.2 418.0,663.3 418.6,663.2 419.1,663.2 419.7,663.4 420.2,663.4 420.8,663.8 421.3,663.6 421.9,663.9 422.4,663.4 423.0,663.4 423.5,663.0 424.1,663.0 424.6,663.4 425.2,663.5 425.7,663.3 426.3,663.6 426.8,663.4 427.4,663.5 427.9,663.7 428.5,663.5 429.0,663.2 429.6,663.8 430.1,663.8 430.7,663.3 431.2,663.0 431.8,662.8 432.3,663.0 432.9,663.5 433.4,663.4 434.0,663.1 434.5,663.4 435.1,663.9 435.6,663.5 436.2,663.5 436.7,663.9 437.3,663.8 437.8,663.5 438.4,663.2 438.9,662.9 439.5,663.0 440.0,663.3 440.6,663.5 441.1,663.7 441.7,663.8 442.2,663.7 442.8,663.5 443.3,663.1 443.9,662.8 444.4,663.1 445.0,663.2 445.5,663.3 446.1,663.3 446.6,663.1 447.2,663.1 447.7,663.5 448.3,663.5 448.8,663.5 449.4,663.6 449.9,663.5 450.5,663.3 451.0,663.7 451.6,664.1 452.1,663.7 452.7,664.0 453.2,664.3 453.8,664.1 454.3,663.7 454.9,664.1 455.4,663.8 456.0,663.5 456.5,663.6 457.1,663.8 457.6,663.7 458.2,663.7 458.7,663.9 459.3,663.4 459.8,663.3 460.4,663.8 460.9,664.0 461.5,663.9 462.0,663.5 462.6,663.9 463.1,664.1 463.7,664.1 464.2,663.5 464.8,663.6 465.3,663.4 465.9,663.1 466.4,663.4 467.0,663.9 467.5,663.5 468.1,663.5 468.6,663.9 469.2,664.1 469.7,664.0 470.3,663.5 470.8,663.7 471.4,663.9 471.9,663.5 472.5,663.5 473.0,664.0 473.6,664.1 474.1,663.2 474.7,662.7 475.2,662.9 475.8,663.2 476.3,663.6 476.9,663.8 477.4,663.6 478.0,663.5 478.5,663.6 479.1,663.4 479.6,663.5 480.2,663.8 480.7,664.5 481.3,664.1 481.8,663.4 482.4,663.3 482.9,663.3 483.5,663.1 484.0,663.3 484.6,663.5 485.1,663.8 485.7,663.6 486.2,663.3 486.8,663.1 487.3,663.2 487.9,663.6 488.4,663.8 489.0,664.0 489.5,663.7 490.1,664.0 490.6,663.9 491.2,663.6 491.7,663.0 492.3,663.2 492.8,664.0 493.4,664.2 493.9,664.0 494.5,663.9 495.0,663.7 495.6,663.5 496.1,663.6 496.7,664.0 497.2,663.9 497.8,663.7 498.3,663.7 498.9,663.9 499.4,663.8 500.0,663.7 500.5,664.2 501.1,664.0 501.6,663.9 502.2,664.3 502.7,664.2 503.3,663.9 503.8,663.8 504.4,663.5 504.9,663.3 505.5,663.2 506.0,663.8 506.6,663.4 507.1,663.7 507.7,663.5 508.2,663.4 508.8,663.7 509.3,663.9 509.9,664.2 510.4,664.4 511.0,664.2 511.5,664.1 512.1,663.8 512.6,664.0 513.2,663.9 513.7,663.7 514.3,663.8 514.8,663.8 515.4,664.0 515.9,664.0 516.5,663.7 517.0,663.7 517.6,663.9 518.1,663.4 518.7,663.7 519.2,664.0 519.8,663.2 520.3,663.5 520.9,663.9 521.4,663.7 522.0,664.3 522.5,663.6 523.1,664.2 523.6,664.6 524.2,664.3 524.7,664.0 525.3,663.9 525.8,663.8 526.4,664.0 526.9,663.7 527.5,663.9 528.0,664.1 528.6,663.7 529.1,663.8 529.7,663.9 530.2,663.7 530.8,664.2 531.3,664.1 531.9,663.6 532.4,663.8 533.0,663.7 533.5,663.8 534.1,663.9 534.6,663.9 535.2,664.2 535.7,664.0 536.3,664.3 536.8,664.2 537.4,664.3 537.9,664.0 538.5,663.8 539.0,663.8 539.6,664.2 540.1,664.6 540.7,665.0 541.2,664.7 541.8,664.3 542.3,664.1 542.9,664.2 543.4,664.3 544.0,664.7 544.5,664.5 545.1,663.9 545.6,664.0 546.2,664.5 546.7,664.4 547.3,664.3 547.8,664.5 548.4,664.2 548.9,664.0 549.5,663.9 550.0,663.7 550.6,664.2 551.1,663.9 551.7,663.9 552.2,664.0 552.8,664.4 553.3,664.3 553.9,664.1 554.4,663.8 555.0,664.0 555.5,663.9 556.1,664.3 556.6,664.4 557.2,664.6 557.7,665.0 558.3,664.7 558.8,664.6 559.4,664.4 559.9,664.4 560.5,664.7 561.0,664.7 561.6,664.2 562.1,664.6 562.7,664.7 563.2,664.8 563.8,664.5 564.3,664.0 564.9,664.1 565.4,664.9 566.0,664.6 566.5,664.1 567.1,664.4 567.6,664.2 568.2,663.7 568.7,663.5 569.3,663.8 569.8,664.4 570.4,664.5 570.9,664.5 571.5,664.6 572.0,664.5 572.6,664.0 573.1,664.2 573.7,664.2 574.2,664.1 574.8,664.3 575.3,664.5 575.9,664.4 576.4,664.1 577.0,664.5 577.5,665.1 578.1,664.4 578.6,664.1 579.2,664.6 579.7,664.9 580.3,664.8 580.8,664.5 581.4,664.8 581.9,664.5 582.5,664.2 583.0,664.4 583.6,664.7 584.1,665.0 584.7,665.0 585.2,664.9 585.8,665.0 586.3,665.0 586.9,664.9 587.4,664.3 588.0,664.3 588.5,664.7 589.1,664.5 589.6,664.6 590.2,664.7 590.7,664.7 591.3,664.8 591.8,665.0 592.4,664.4 592.9,665.1 593.5,665.7 594.0,665.1 594.6,665.0 595.1,665.3 595.7,665.4 596.2,664.8 596.8,664.8 597.3,665.0 597.9,665.1 598.4,665.2 599.0,665.2 599.5,665.0 600.1,664.9 600.6,664.8 601.2,664.8 601.7,664.9 602.3,664.9 602.8,664.9 603.4,665.4 603.9,665.1 604.5,664.8 605.0,665.2 605.6,665.1 606.1,665.2 606.7,665.2 607.2,665.2 607.8,665.2 608.3,665.0 608.9,665.3 609.4,665.6 610.0,664.8 610.5,665.1 611.1,665.3 611.6,664.8 612.2,665.0 612.7,665.7 613.3,665.6 613.8,665.9 614.4,665.7 614.9,665.4 615.5,665.5 616.0,665.7 616.6,665.8 617.1,665.6 617.7,665.5 618.2,665.6 618.8,665.9 619.3,665.7 619.9,665.1 620.4,665.2 621.0,665.4 621.5,665.3 622.1,665.2 622.6,665.1 623.2,665.3 623.7,665.7 624.3,665.8 624.8,665.8 625.4,666.1 625.9,666.0 626.5,666.6 627.0,666.2 627.6,665.8 628.1,665.2 628.7,664.7 629.2,665.3 629.8,665.8 630.3,666.1 630.9,665.6 631.4,666.0 632.0,665.8 632.5,665.6 633.1,665.0 633.6,665.5 634.2,665.7 634.7,665.9 635.3,665.7 635.8,665.5 636.4,666.0 636.9,666.1 637.5,666.1 638.0,666.3 638.6,666.2 639.1,665.8 639.7,665.3 640.2,665.4 640.8,666.2 641.3,666.2 641.9,665.9 642.4,665.8 643.0,665.9 643.5,665.9 644.1,665.8 644.6,665.9 645.2,666.5 645.7,666.2 646.3,665.7 646.8,665.5 647.4,665.7 647.9,666.2 648.5,666.3 649.0,666.0 649.6,666.0 650.1,665.9 650.7,665.8 651.2,666.4 651.8,666.6 652.3,666.8 652.9,666.1 653.4,666.1 654.0,666.4 654.5,666.0 655.1,665.6 655.6,665.8 656.2,666.2 656.7,666.3 657.3,666.3 657.8,666.6 658.4,666.7 658.9,666.5 659.5,666.3 660.0,666.3 660.6,666.5 661.1,666.6 661.7,666.5 662.2,666.4 662.8,666.2 663.3,665.8 663.9,666.0 664.4,666.6 665.0,666.6" stroke="#ff0080"/>
<path d="M87.0,869.3 87.5,869.3 88.1,870.1 88.6,870.9 89.2,870.9 89.7,870.4 90.3,870.8 90.8,871.4 91.4,871.5 91.9,872.7 92.5,873.5 93.0,873.7 93.6,874.9 94.1,874.5 94.7,874.5 95.2,874.6 95.8,874.8 96.3,875.5 96.9,876.0 97.4,876.8 98.0,876.6 98.5,876.3 99.1,875.7 99.6,875.2 100.2,875.8 100.7,876.2 101.3,877.1 101.8,877.4 102.4,878.2 102.9,878.0 103.5,877.7 104.0,877.3 104.6,877.2 105.1,877.5 105.7,877.3 106.2,876.5 106.8,877.3 107.3,878.3 107.9,877.0 108.4,876.2 109.0,875.7 109.5,875.6 110.1,876.8 110.6,876.7 111.2,876.8 111.7,877.7 112.3,877.4 112.8,875.4 113.4,875.3 113.9,874.9 114.5,874.2 115.0,873.6 115.6,873.2 116.1,873.5 116.7,872.6 117.2,871.9 117.8,871.8 118.3,871.1 118.9,870.1 119.4,869.5 120.0,869.4 120.5,867.9 121.1,866.2 121.6,864.6 122.2,863.4 122.7,862.5 123.3,860.4 123.8,858.1 124.4,855.6 124.9,852.8 125.5,849.8 126.0,846.5 126.6,842.7 127.1,837.3 127.7,831.9 128.2,826.8 128.8,820.0 129.3,816.0 129.9,813.0 130.4,809.5 131.0,803.9 131.5,794.3 132.1,786.9 132.6,779.9 133.2,770.5 133.7,759.6 134.3,752.7 134.8,747.0 135.4,741.9 135.9,736.8 136.5,732.5 137.0,727.7 137.6,730.2 138.1,734.3 138.7,738.5 139.2,743.3 139.8,748.8 140.3,754.8 140.9,761.3 141.4,768.2 142.0,776.2 142.5,786.7 143.1,797.0 143.6,805.8 144.2,812.6 144.7,818.4 145.3,824.1 145.8,829.4 146.4,835.0 146.9,840.6 147.5,845.1 148.0,849.1 148.6,852.8 149.1,856.6 149.7,860.2 150.2,862.6 150.8,864.4 151.3,866.2 151.9,867.8 152.4,869.3 153.0,869.4 153.5,871.0 154.1,872.1 154.6,873.8 155.2,874.5 155.7,875.4 156.3,875.1 156.8,875.1 157.4,875.9 157.9,876.8 158.5,877.8 159.0,879.7 159.6,880.5 160.1,880.0 160.7,879.6 161.2,880.1 161.8,880.6 162.3,881.9 162.9,881.8 163.4,881.7 164.0,881.0 164.5,880.3 165.1,880.8 165.6,881.3 166.2,882.2 166.7,882.3 167.3,881.9 167.8,882.5 168.4,883.4 168.9,882.4 169.5,882.2 170.0,882.6 170.6,882.6 171.1,883.0 171.7,884.0 172.2,884.3 172.8,882.9 173.3,883.3 173.9,883.8 174.4,883.8 175.0,883.8 175.5,884.1 176.1,884.7 176.6,884.2 177.2,884.3 177.7,884.6 178.3,884.7 178.8,884.9 179.4,885.5 179.9,885.3 180.5,885.2 181.0,885.1 181.6,884.6 182.1,884.5 182.7,884.8 183.2,885.4 183.8,885.2 184.3,885.1 184.9,886.0 185.4,886.1 186.0,885.5 186.5,886.9 187.1,886.7 187.6,886.6 188.2,887.1 188.7,886.7 189.3,886.7 189.8,887.7 190.4,886.6 190.9,886.8 191.5,887.2 192.0,886.5 192.6,886.9 193.1,887.9 193.7,888.6 194.2,887.2 194.8,887.3 195.3,887.9 195.9,887.4 196.4,886.9 197.0,887.6 197.5,887.9 198.1,888.2 198.6,888.7 199.2,888.7 199.7,888.3 200.3,887.9 200.8,887.2 201.4,887.6 201.9,887.9 202.5,887.7 203.0,887.7 203.6,887.8 204.1,889.2 204.7,889.6 205.2,888.3 205.8,888.1 206.3,888.2 206.9,888.8 207.4,888.6 208.0,888.1 208.5,887.9 209.1,887.9 209.6,887.6 210.2,888.1 210.7,887.9 211.3,888.3 211.8,888.5 212.4,888.8 212.9,888.6 213.5,888.6 214.0,887.9 214.6,888.3 215.1,888.2 215.7,888.3 216.2,888.5 216.8,888.4 217.3,887.2 217.9,887.7 218.4,887.6 219.0,888.3 219.5,887.1 220.1,886.9 220.6,887.4 221.2,888.8 221.7,887.9 222.3,888.1 222.8,887.8 223.4,887.2 223.9,888.1 224.5,888.9 225.0,888.8 225.6,889.1 226.1,888.6 226.7,888.6 227.2,888.6 227.8,889.3 228.3,890.1 228.9,889.5 229.4,888.9 230.0,888.4 230.5,888.6 231.1,889.4 231.6,888.3 232.2,888.1 232.7,888.6 233.3,889.0 233.8,889.5 234.4,887.9 234.9,888.7 235.5,889.1 236.0,888.1 236.6,888.2 237.1,889.2 237.7,889.7 238.2,888.1 238.8,887.7 239.3,889.2 239.9,889.7 240.4,888.2 241.0,887.4 241.5,888.9 242.1,888.8 242.6,889.0 243.2,888.4 243.7,887.9 244.3,888.1 244.8,889.1 245.4,888.5 245.9,886.3 246.5,886.6 247.0,887.8 247.6,886.6 248.1,885.5 248.7,885.8 249.2,885.8 249.8,885.5 250.3,885.0 250.9,884.8 251.4,884.7 252.0,884.7 252.5,884.0 253.1,883.9 253.6,884.2 254.2,884.7 254.7,884.2 255.3,883.6 255.8,883.8 256.4,883.9 256.9,884.1 257.5,884.1 258.0,884.8 258.6,884.6 259.1,883.7 259.7,883.7 260.2,884.6 260.8,884.8 261.3,884.3 261.9,883.6 262.4,883.9 263.0,885.6 263.5,886.6 264.1,886.6 264.6,886.1 265.2,887.2 265.7,887.3 266.3,888.0 266.8,888.3 267.4,888.0 267.9,887.9 268.5,887.5 269.0,887.9 269.6,888.2 270.1,889.4 270.7,889.9 271.2,890.3 271.8,890.0 272.3,889.6 272.9,889.9 273.4,889.9 274.0,890.4 274.5,890.2 275.1,889.5 275.6,889.9 276.2,890.1 276.7,890.2 277.3,891.0 277.8,891.4 278.4,890.3 278.9,889.4 279.5,888.7 280.0,889.5 280.6,889.4 281.1,888.8 281.7,890.0 282.2,890.4 282.8,889.7 283.3,889.5 283.9,889.5 284.4,889.9 285.0,889.1 285.5,889.8 286.1,891.1 286.6,890.4 287.2,890.1 287.7,889.5 288.3,888.9 288.8,889.5 289.4,889.7 289.9,889.1 290.5,889.8 291.0,890.6 291.6,890.1 292.1,888.5 292.7,888.1 293.2,888.4 293.8,889.8 294.3,890.0 294.9,889.6 295.4,888.5 296.0,888.2 296.5,888.9 297.1,888.9 297.6,888.4 298.2,888.9 298.7,889.2 299.3,888.7 299.8,887.6 300.4,886.9 300.9,887.8 301.5,888.3 302.0,888.0 302.6,887.6 303.1,887.5 303.7,888.0 304.2,887.7 304.8,887.2 305.3,886.4 305.9,886.4 306.4,886.5 307.0,885.6 307.5,885.2 308.1,885.8 308.6,886.6 309.2,886.3 309.7,886.4 310.3,885.4 310.8,884.5 311.4,883.8 311.9,884.3 312.5,885.4 313.0,885.0 313.6,884.8 314.1,884.5 314.7,883.9 315.2,883.5 315.8,883.6 316.3,883.8 316.9,883.6 317.4,883.3 318.0,882.7 318.5,882.0 319.1,881.8 319.6,881.7 320.2,881.9 320.7,880.6 321.3,881.5 321.8,882.8 322.4,881.2 322.9,880.2 323.5,880.9 324.0,881.4 324.6,880.8 325.1,880.7 325.7,880.2 326.2,880.4 326.8,881.7 327.3,880.1 327.9,878.9 328.4,878.8 329.0,879.2 329.5,879.3 330.1,879.2 330.6,878.4 331.2,877.5 331.7,878.1 332.3,877.8 332.8,877.2 333.4,876.4 333.9,876.5 334.5,876.5 335.0,876.4 335.6,875.8 336.1,876.3 336.7,876.2 337.2,875.3 337.8,875.1 338.3,875.2 338.9,875.4 339.4,873.9 340.0,874.1 340.5,873.8 341.1,874.4 341.6,875.0 342.2,874.4 342.7,874.2 343.3,874.2 343.8,875.5 344.4,875.4 344.9,874.7 345.5,873.2 346.0,873.2 346.6,874.2 347.1,873.8 347.7,873.6 348.2,873.5 348.8,873.0 349.3,873.7 349.9,873.7 350.4,873.5 351.0,873.0 351.5,873.2 352.1,872.9 352.6,873.6 353.2,873.9 353.7,873.5 354.3,873.0 354.8,872.1 355.4,870.5 355.9,871.5 356.5,871.4 357.0,871.0 357.6,870.3 358.1,869.4 358.7,869.6 359.2,870.4 359.8,870.3 360.3,868.8 360.9,868.3 361.4,868.8 362.0,868.0 362.5,868.5 363.1,867.2 363.6,866.1 364.2,866.9 364.7,866.6 365.3,865.1 365.8,865.5 366.4,864.9 366.9,864.9 367.5,863.4 368.0,862.5 368.6,863.5 369.1,864.5 369.7,865.4 370.2,865.4 370.8,864.9 371.3,864.3 371.9,864.3 372.4,864.5 373.0,864.6 373.5,864.6 374.1,864.1 374.6,865.6 375.2,866.8 375.7,868.3 376.3,867.7 376.8,867.1 377.4,867.4 377.9,866.9 378.5,867.0 379.0,867.4 379.6,869.4 380.1,869.6 380.7,869.0 381.2,870.0 381.8,871.2 382.3,871.5 382.9,871.5 383.4,871.2 384.0,871.6 384.5,872.7 385.1,873.3 385.6,872.7 386.2,872.9 386.7,874.1 387.3,874.0 387.8,874.9 388.4,875.2 388.9,875.9 389.5,876.7 390.0,876.5 390.6,876.2 391.1,875.4 391.7,875.7 392.2,877.0 392.8,878.0 393.3,878.4 393.9,878.7 394.4,877.7 395.0,877.5 395.5,877.8 396.1,877.4 396.6,877.0 397.2,876.8 397.7,877.5 398.3,877.1 398.8,877.3 399.4,876.9 399.9,877.7 400.5,877.3 401.0,877.6 401.6,876.7 402.1,877.3 402.7,878.2 403.2,877.5 403.8,877.5 404.3,877.0 404.9,876.3 405.4,877.6 406.0,878.0 406.5,877.4 407.1,877.9 407.6,877.3 408.2,877.1 408.7,877.6 409.3,878.0 409.8,879.0 410.4,877.7 410.9,878.4 411.5,878.4 412.0,876.7 412.6,876.7 413.1,878.0 413.7,878.0 414.2,878.5 414.8,878.8 415.3,877.9 415.9,876.8 416.4,876.2 417.0,877.5 417.5,877.7 418.1,878.2 418.6,878.1 419.2,877.7 419.7,879.2 420.3,879.5 420.8,878.8 421.4,877.6 421.9,877.7 422.5,877.8 423.0,877.7 423.6,877.6 424.1,878.4 424.7,878.7 425.2,878.6 425.8,878.4 426.3,879.2 426.9,878.3 427.4,876.7 428.0,877.5 428.5,878.5 429.1,879.1 429.6,878.5 430.2,878.2 430.7,878.3 431.3,878.8 431.8,878.4 432.4,878.0 432.9,878.2 433.5,878.8 434.0,878.1 434.6,877.7 435.1,878.6 435.7,878.5 436.2,878.9 436.8,879.3 437.3,879.8 437.9,879.6 438.4,878.6 439.0,878.3 439.5,878.3 440.1,879.7 440.6,879.8 441.2,879.8 441.7,878.5 442.3,877.8 442.8,879.4 443.4,879.3 443.9,879.0 444.5,879.1 445.0,879.4 445.6,879.0 446.1,878.2 446.7,879.1 447.2,878.7 447.8,878.8 448.3,880.0 448.9,879.7 449.4,878.4 450.0,877.6 450.5,878.6 451.1,879.1 451.6,878.5 452.2,877.8 452.7,877.7 453.3,877.8 453.8,878.7 454.4,879.4 454.9,879.3 455.5,878.4 456.0,878.6 456.6,878.8 457.1,878.2 457.7,878.7 458.2,879.8 458.8,879.2 459.3,878.9 459.9,878.3 460.4,877.9 461.0,877.2 461.5,878.1 462.1,879.4 462.6,880.1 463.2,879.5 463.7,878.9 464.3,878.2 464.8,877.7 465.4,878.0 465.9,878.3 466.5,877.9 467.0,878.3 467.6,877.2 468.1,876.5 468.7,876.6 469.2,876.4 469.8,877.0 470.3,878.3 470.9,878.1 471.4,878.2 472.0,878.9 472.5,878.8 473.1,878.1 473.6,878.6 474.2,878.3 474.7,877.9 475.3,877.7 475.8,876.8 476.4,876.9 476.9,877.6 477.5,878.0 478.0,877.5 478.6,877.7 479.1,878.5 479.7,878.9 480.2,878.6 480.8,878.4 481.3,877.5 481.9,877.3 482.4,877.6 483.0,877.3 483.5,877.5 484.1,878.4 484.6,877.5 485.2,877.0 485.7,878.0 486.3,878.8 486.8,878.2 487.4,878.2 487.9,877.4 488.5,877.0 489.0,876.9 489.6,877.7 490.1,878.4 490.7,877.5 491.2,878.1 491.8,877.2 492.3,877.3 492.9,878.1 493.4,878.1 494.0,877.5 494.5,876.6 495.1,877.2 495.6,877.5 496.2,878.9 496.7,877.9 497.3,877.3 497.8,876.7 498.4,876.7 498.9,876.8 499.5,877.8 500.0,877.7 500.6,877.7 501.1,877.1 501.7,877.3 502.2,878.1 502.8,876.9 503.3,876.4 503.9,877.4 504.4,877.1 505.0,877.6 505.5,878.3 506.1,878.0 506.6,878.5 507.2,878.4 507.7,879.6 508.3,879.7 508.8,878.7 509.4,878.4 509.9,878.5 510.5,879.3 511.0,879.7 511.6,878.9 512.1,879.5 512.7,878.7 513.2,878.5 513.8,878.9 514.3,880.8 514.9,880.4 515.4,880.0 516.0,879.9 516.5,880.2 517.1,879.1 517.6,880.3 518.2,881.7 518.7,880.6 519.3,880.6 519.8,880.8 520.4,880.3 520.9,880.7 521.5,881.4 522.0,881.2 522.6,881.1 523.1,880.9 523.7,881.2 524.2,881.5 524.8,882.2 525.3,881.9 525.9,880.8 526.4,879.9 527.0,881.5 527.5,881.9 528.1,880.6 528.6,879.8 529.2,880.6 529.7,881.7 530.3,881.0 530.8,881.2 531.4,882.0 531.9,882.5 532.5,881.9 533.0,881.5 533.6,881.7 534.1,882.8 534.7,882.7 535.2,881.5 535.8,880.6 536.3,881.0 536.9,881.6 537.4,881.4 538.0,882.0 538.5,882.0 539.1,881.8 539.6,882.0 540.2,881.6 540.7,880.8 541.3,881.4 541.8,882.3 542.4,880.8 542.9,880.8 543.5,881.6 544.0,880.9 544.6,880.1 545.1,880.0 545.7,881.1 546.2,881.8 546.8,881.8 547.3,881.2 547.9,881.0 548.4,880.1 549.0,880.2 549.5,880.0 550.1,880.4 550.6,881.0 551.2,880.8 551.7,879.9 552.3,880.5 552.8,879.6 553.4,879.0 553.9,879.1 554.5,878.7 555.0,879.3 555.6,879.6 556.1,879.4 556.7,879.5 557.2,879.1 557.8,878.7 558.3,878.1 558.9,878.5 559.4,878.2 560.0,878.3 560.5,878.5 561.1,878.3 561.6,877.2 562.2,877.0 562.7,877.9 563.3,878.6 563.8,878.7 564.4,879.0 564.9,879.2 565.5,878.6 566.0,877.8 566.6,877.0 567.1,876.9 567.7,877.3 568.2,877.8 568.8,877.8 569.3,877.6 569.9,877.5 570.4,877.9 571.0,877.7 571.5,877.6 572.1,877.4 572.6,876.7 573.2,876.5 573.7,877.3 574.3,877.4 574.8,876.9 575.4,877.1 575.9,878.1 576.5,876.8 577.0,876.5 577.6,876.6 578.1,876.0 578.7,876.8 579.2,877.9 579.8,877.5 580.3,877.1 580.9,876.8 581.4,876.6 582.0,876.7 582.5,876.1 583.1,875.7 583.6,876.0 584.2,876.4 584.7,876.2 585.3,875.7 585.8,874.6 586.4,876.2 586.9,877.4 587.5,876.6 588.0,875.2 588.6,874.7 589.1,875.0 589.7,874.8 590.2,875.4 590.8,875.3 591.3,876.2 591.9,876.2 592.4,874.8 593.0,875.5 593.5,875.4 594.1,875.1 594.6,875.7 595.2,876.7 595.7,877.2 596.3,876.6 596.8,878.1 597.4,879.2 597.9,878.7 598.5,878.5 599.0,878.0 599.6,877.7 600.1,878.6 600.7,879.1 601.2,879.7 601.8,880.7 602.3,880.0 602.9,879.7 603.4,879.9 604.0,878.4 604.5,878.2 605.1,878.8 605.6,879.1 606.2,879.8 606.7,880.0 607.3,881.1 607.8,881.3 608.4,880.7 608.9,880.1 609.5,880.6 610.0,880.6 610.6,879.8 611.1,880.5 611.7,881.0 612.2,881.1 612.8,881.9 613.3,881.6 613.9,880.5 614.4,880.5 615.0,880.5 615.5,881.0 616.1,880.8 616.6,881.6 617.2,881.8 617.7,881.9 618.3,881.1 618.8,880.8 619.4,882.2 619.9,882.1 620.5,882.5 621.0,882.4 621.6,882.6 622.1,883.1 622.7,882.7 623.2,882.5 623.8,881.5 624.3,882.2 624.9,882.1 625.4,882.0 626.0,882.2 626.5,882.8 627.1,883.0 627.6,881.5 628.2,881.9 628.7,882.3 629.3,883.0 629.8,882.6 630.4,882.7 630.9,882.7 631.5,883.3 632.0,883.5 632.6,882.9 633.1,882.6 633.7,882.2 634.2,883.2 634.8,883.6 635.3,883.3 635.9,883.5 636.4,881.9 637.0,881.6 637.5,882.2 638.1,883.0 638.6,883.6 639.2,883.8 639.7,884.0 640.3,884.4 640.8,883.7 641.4,883.1 641.9,883.8 642.5,885.1 643.0,883.5 643.6,884.4 644.1,885.8 644.7,885.4 645.2,884.6 645.8,885.2 646.3,886.1 646.9,886.2 647.4,885.4 648.0,886.0 648.5,886.3 649.1,886.9 649.6,887.0 650.2,885.9 650.7,885.3 651.3,886.6 651.8,887.8 652.4,887.4 652.9,887.4 653.5,888.0 654.0,886.8 654.6,887.1 655.1,886.8 655.7,887.0 656.2,887.5 656.8,888.0 657.3,886.9 657.9,886.5 658.4,886.4 659.0,887.4 659.5,887.5 660.1,887.6 660.6,887.1 661.2,887.6 661.7,888.5 662.3,888.3 662.8,888.6 663.4,888.6 663.9,887.8 664.5,887.5 665.0,888.7 665.6,889.0 666.1,888.8 666.7,887.5" stroke="#000"/>
</g>
<rect x="65.5" y="6.4" width="604.1" height="920.2" fill="none" stroke="#000" stroke-width="5.2"/>
<g stroke="#000" stroke-width="5"><line x1="130.2" y1="912" x2="130.2" y2="925" /><line x1="238.1" y1="912" x2="238.1" y2="925" /><line x1="346.0" y1="912" x2="346.0" y2="925" /><line x1="453.8" y1="912" x2="453.8" y2="925" /><line x1="561.7" y1="912" x2="561.7" y2="925" /><line x1="669.6" y1="912" x2="669.6" y2="925" /><line x1="76.3" y1="919.6" x2="76.3" y2="925" /><line x1="184.2" y1="919.6" x2="184.2" y2="925" /><line x1="292.0" y1="919.6" x2="292.0" y2="925" /><line x1="399.9" y1="919.6" x2="399.9" y2="925" /><line x1="507.8" y1="919.6" x2="507.8" y2="925" /><line x1="615.7" y1="919.6" x2="615.7" y2="925" /></g>
<text class="tick" x="109.92" y="973">5</text><path d="M763,0 L583,0 L583,1102 C538,1060 473,1016 404,976 C335,937 272,908 223,890 L223,1057 C330,1105 423,1164 503,1232 C583,1300 640,1359 669,1409 L763,1409 Z" transform="translate(206.80,973) scale(0.01953,-0.01953)" fill="#000"/><text class="tick" x="229.70" y="973">0</text><path d="M763,0 L583,0 L583,1102 C538,1060 473,1016 404,976 C335,937 272,908 223,890 L223,1057 C330,1105 423,1164 503,1232 C583,1300 640,1359 669,1409 L763,1409 Z" transform="translate(314.90,973) scale(0.01953,-0.01953)" fill="#000"/><text class="tick" x="338.10" y="973">5</text><text class="tick" x="444.7" y="973" text-anchor="middle">20</text><text class="tick" x="552.7" y="973" text-anchor="middle">25</text><text class="tick" x="660.8" y="973" text-anchor="middle">30</text>
<rect x="516" y="142" width="140.3" height="42.5" fill="#fff" stroke="#5a5a5a" stroke-width="1.6"/><line x1="520.5" y1="162.7" x2="588.8" y2="162.7" stroke="#0000ff" stroke-width="4.8" stroke-linecap="round"/><text x="597.3" y="173.4" class="leg">P60</text>
<rect x="517.5" y="370.3" width="141" height="42.3" fill="#fff" stroke="#5a5a5a" stroke-width="1.6"/><line x1="522.5" y1="391.1" x2="591" y2="391.1" stroke="#00ff00" stroke-width="4.8" stroke-linecap="round"/><text x="598.6" y="401.4" class="leg">P40</text>
<rect x="511.8" y="596" width="140.6" height="42.8" fill="#fff" stroke="#5a5a5a" stroke-width="1.6"/><line x1="516.5" y1="617.9" x2="584.6" y2="617.9" stroke="#ff0080" stroke-width="4.8" stroke-linecap="round"/><text x="594.1" y="628.4" class="leg">P20</text>
<rect x="530.4" y="805.8" width="123.4" height="41.7" fill="#fff" stroke="#5a5a5a" stroke-width="1.6"/><line x1="535.4" y1="827.5" x2="603.5" y2="827.5" stroke="#000" stroke-width="4.8" stroke-linecap="round"/><text x="612.5" y="837.5" class="leg">P0</text>
<text class="ann" x="103.10" y="711.7">(</text><path d="M763,0 L583,0 L583,1102 C538,1060 473,1016 404,976 C335,937 272,908 223,890 L223,1057 C330,1105 423,1164 503,1232 C583,1300 640,1359 669,1409 L763,1409 Z" transform="translate(113.60,711.7) scale(0.01489,-0.01489)" fill="#000"/><text class="ann" x="130.60" y="711.7">0</text><text class="ann" x="148.80" y="711.7">0</text><text class="ann" x="166.20" y="711.7">)</text><text class="ann" x="207.90" y="857.3">(</text><text class="ann" x="218.10" y="857.3">2</text><text class="ann" x="235.60" y="857.3">0</text><text class="ann" x="253.80" y="857.3">0</text><text class="ann" x="271.00" y="857.3">)</text><text class="ann" x="330.60" y="844.0">(</text><text class="ann" x="341.40" y="844.0">3</text><text class="ann" x="358.60" y="844.0">0</text><text class="ann" x="376.20" y="844.0">0</text><text class="ann" x="393.90" y="844.0">)</text>
<text class="ylab" transform="translate(39.3,564.4) rotate(-90)">Intensity (a.u)</text>
<text class="xb" x="306.3" y="1029.6">2</text>
<text class="xs" transform="translate(333.6,1029.6) scale(1.33,1)" style="font-size:48.5px">θ</text>
<text class="xs" x="373.5" y="1031.6" style="font-size:52px">(</text>
<text class="xs" x="390.5" y="1031.1" style="font-size:52px;stroke:#000;stroke-width:0.4px">°</text>
<text class="xs" x="411.8" y="1031.6" style="font-size:52px">)</text>
</svg>
</body></html>
